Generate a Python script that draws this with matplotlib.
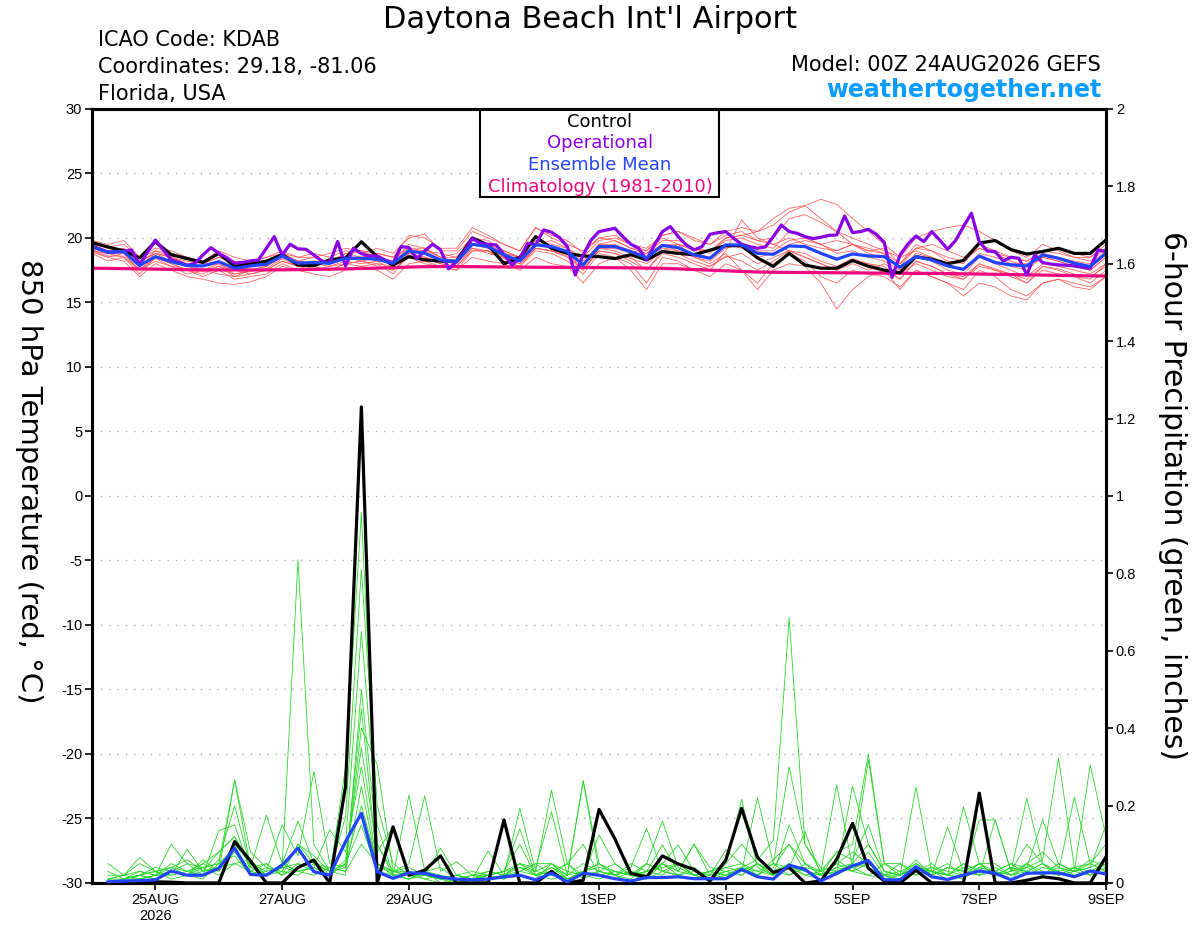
import numpy as np
import matplotlib.pyplot as plt
import matplotlib.dates as mdates
from matplotlib.patches import Rectangle
from datetime import datetime, timedelta

plt.rcParams['font.family'] = ['Liberation Sans', 'DejaVu Sans']

# time axes: model init 00Z 24AUG2026, 6-hourly ensemble, 3-hourly operational
init = datetime(2026, 8, 24, 0)
t6 = [init + timedelta(hours=h) for h in range(0, 385, 6)]
t3 = [init + timedelta(hours=h) for h in range(0, 385, 3)]
tp = t6[1:]  # 6-hour precip ends at 06Z

# ---- 850 hPa temperature (C) ----
control_t = [19.64, 19.3, 19.0, 18.45, 19.7, 18.7, 18.4, 18.1, 18.8, 17.8, 18.0, 18.2, 18.7,
             17.9, 17.85, 18.3, 18.45, 19.7, 18.55, 17.9, 18.55, 18.3, 18.2, 18.2, 20.0, 19.45,
             18.0, 18.5, 20.1, 19.2, 18.8, 18.6, 18.55, 18.4, 18.7, 18.3, 18.95, 18.8, 18.7,
             19.05, 19.4, 19.4, 18.45, 17.8, 18.8, 17.9, 17.65, 17.65, 18.25, 17.8, 17.5, 17.3,
             18.55, 18.35, 18.0, 18.25, 19.6, 19.8, 19.1, 18.75, 18.95, 19.2, 18.8, 18.8, 19.85]

mean_t = [19.33, 18.89, 18.94, 17.86, 18.55, 18.16, 17.86, 17.83, 18.16, 17.65, 17.83, 17.96, 18.6,
          18.04, 18.09, 18.04, 18.42, 18.42, 18.35, 18.04, 18.99, 18.81, 18.29, 18.16, 19.51, 19.33,
          18.68, 18.22, 19.46, 19.33, 18.94, 17.91, 19.33, 19.33, 18.94, 18.47, 19.41, 19.25, 18.68,
          18.42, 19.46, 19.46, 18.81, 18.73, 19.38, 19.33, 18.81, 18.35, 18.76, 18.6, 18.55, 17.73,
          18.55, 18.29, 17.83, 17.57, 18.6, 18.09, 17.91, 17.83, 18.68, 18.42, 18.04, 17.78, 18.81]

clim_t = [17.65, 17.64, 17.62, 17.6, 17.58, 17.56, 17.54, 17.53, 17.52, 17.52, 17.52, 17.52, 17.53,
          17.54, 17.56, 17.58, 17.6, 17.63, 17.66, 17.7, 17.74, 17.77, 17.78, 17.78, 17.77, 17.76,
          17.75, 17.74, 17.73, 17.72, 17.72, 17.71, 17.7, 17.69, 17.68, 17.66, 17.64, 17.6, 17.55,
          17.5, 17.45, 17.4, 17.36, 17.34, 17.33, 17.32, 17.31, 17.3, 17.29, 17.28, 17.27, 17.26,
          17.25, 17.25, 17.24, 17.22, 17.2, 17.18, 17.16, 17.14, 17.12, 17.1, 17.08, 17.06, 17.05]

oper_t = [19.33, 19.12, 18.89, 18.9, 18.97, 19.07, 17.91, 18.9, 19.84, 19.07,
          18.29, 18.1, 17.86, 18.04, 18.68, 19.25, 18.81, 18.47, 18.04, 18.1,
          18.22, 18.29, 19.2, 20.1, 18.68, 19.51, 19.15, 19.12, 18.68, 18.22,
          18.04, 19.72, 17.83, 19.2, 18.78, 18.6, 18.6, 18.29, 18.04, 19.33,
          19.25, 18.4, 19.0, 19.51, 19.07, 17.6, 18.16, 18.97, 19.97, 19.59,
          19.51, 19.46, 18.73, 17.91, 18.42, 19.59, 19.46, 20.62, 20.44, 20.03,
          19.33, 17.13, 18.68, 19.84, 20.49, 20.62, 20.75, 20.1, 19.51, 19.2,
          18.29, 19.46, 20.49, 20.88, 20.1, 19.46, 19.07, 19.33, 20.28, 20.41,
          20.49, 19.97, 19.51, 19.33, 19.2, 19.3, 20.1, 21.0, 20.49, 20.36,
          20.1, 19.95, 20.05, 20.2, 20.23, 21.7, 20.41, 20.49, 20.67, 20.28,
          19.66, 16.95, 18.68, 19.53, 20.15, 19.71, 20.49, 19.84, 19.12, 19.79,
          20.88, 21.91, 19.71, 18.99, 18.94, 18.22, 18.5, 18.42, 17.13, 18.68,
          18.09, 17.98, 17.91, 17.88, 17.83, 17.73, 17.65, 19.07, 18.94]

members_t = [
    [19.5, 19.0, 19.2, 18.0, 19.0, 18.5, 18.0, 17.5, 18.0, 17.2, 17.5, 17.8, 18.5,
     18.2, 18.5, 18.0, 18.8, 19.0, 18.5, 18.2, 19.5, 19.2, 18.5, 18.8, 20.0, 19.8,
     19.0, 18.5, 19.8, 19.5, 19.2, 18.5, 19.8, 20.0, 19.5, 19.0, 20.2, 20.5, 20.0,
     19.5, 20.5, 20.8, 20.5, 21.0, 22.0, 22.5, 23.0, 22.6, 21.5, 20.5, 19.5, 18.5,
     19.0, 18.5, 18.0, 17.5, 18.5, 18.0, 17.5, 17.0, 18.0, 17.8, 17.5, 17.2, 18.0],
    [19.0, 18.5, 18.2, 17.0, 18.0, 17.5, 17.0, 16.8, 16.5, 16.4, 16.6, 17.0, 17.8,
     17.5, 17.2, 17.0, 17.5, 17.8, 17.5, 16.8, 18.0, 18.2, 17.8, 17.5, 18.5, 18.2,
     18.0, 17.5, 18.5, 18.0, 17.8, 16.5, 18.0, 18.5, 18.0, 16.5, 18.5, 18.2, 17.5,
     17.0, 18.0, 17.5, 16.0, 17.5, 18.0, 17.8, 16.5, 14.5, 16.0, 17.0, 17.5, 16.0,
     17.5, 17.0, 16.5, 16.0, 17.5, 17.0, 16.0, 15.5, 16.5, 16.8, 16.5, 16.2, 17.0],
    [19.8, 19.5, 19.8, 18.5, 19.2, 19.0, 18.5, 18.2, 19.0, 18.5, 18.2, 18.5, 19.0,
     18.5, 18.8, 18.5, 19.0, 18.8, 19.2, 18.8, 20.0, 20.3, 19.0, 19.0, 20.5, 20.0,
     19.5, 19.0, 20.8, 20.0, 19.5, 19.0, 20.0, 19.8, 19.2, 19.0, 20.0, 19.5, 19.0,
     19.0, 19.8, 20.0, 19.5, 19.2, 20.5, 20.0, 19.5, 19.8, 19.5, 19.0, 19.2, 18.0,
     19.5, 19.0, 18.2, 18.0, 19.5, 19.0, 18.5, 18.2, 19.0, 19.2, 18.8, 18.5, 19.5],
    [18.8, 18.2, 18.5, 17.5, 18.2, 17.8, 17.2, 17.5, 17.8, 17.5, 17.2, 17.5, 18.2,
     17.8, 17.5, 17.8, 18.0, 18.2, 17.8, 17.5, 18.5, 18.0, 17.8, 17.5, 19.0, 19.0,
     18.2, 17.8, 19.2, 19.0, 18.5, 17.5, 19.0, 18.8, 18.2, 17.5, 18.8, 18.5, 18.0,
     17.5, 19.0, 21.4, 20.0, 19.5, 19.0, 18.5, 18.0, 17.5, 18.0, 17.5, 18.0, 17.2,
     18.0, 17.5, 17.0, 16.8, 18.0, 17.5, 17.2, 16.5, 17.8, 17.5, 17.0, 16.8, 18.0],
    [19.2, 19.0, 18.8, 17.8, 18.8, 18.5, 18.2, 18.0, 18.5, 18.0, 18.2, 18.5, 18.8,
     18.2, 18.0, 18.2, 18.5, 18.5, 18.8, 18.5, 19.2, 19.0, 18.8, 18.5, 19.8, 19.5,
     18.8, 18.5, 19.5, 19.8, 19.2, 18.2, 19.5, 19.8, 19.2, 18.8, 19.8, 19.8, 19.2,
     18.8, 20.0, 20.2, 19.8, 20.0, 21.5, 21.8, 21.2, 20.5, 20.0, 19.5, 19.0, 18.5,
     20.0, 20.5, 20.8, 21.0, 20.5, 19.8, 19.0, 18.5, 19.5, 19.0, 18.5, 18.2, 19.2],
    [19.0, 18.8, 18.5, 17.2, 18.5, 18.0, 17.5, 17.2, 17.8, 17.0, 17.2, 17.5, 18.2,
     17.8, 17.8, 17.5, 18.0, 18.2, 18.0, 17.2, 18.8, 18.5, 18.0, 17.8, 19.2, 19.0,
     18.2, 17.8, 19.0, 18.8, 18.2, 17.2, 18.8, 18.5, 17.5, 16.0, 18.0, 18.0, 17.5,
     17.8, 18.5, 18.8, 18.0, 18.5, 19.0, 18.5, 18.0, 17.5, 18.2, 18.0, 17.8, 16.8,
     18.2, 17.8, 17.2, 16.8, 17.8, 17.5, 17.0, 16.5, 17.5, 17.2, 17.0, 16.5, 17.5],
    [19.5, 19.2, 19.0, 18.2, 18.8, 18.2, 17.8, 17.5, 17.2, 17.0, 17.5, 17.8, 18.5,
     18.0, 18.2, 18.2, 18.8, 18.5, 18.2, 18.0, 19.0, 19.0, 18.5, 18.2, 19.5, 19.2,
     18.8, 18.5, 19.5, 19.2, 19.0, 18.0, 19.5, 19.2, 19.0, 18.5, 19.5, 19.0, 18.8,
     18.5, 19.5, 19.2, 18.5, 18.8, 19.5, 19.8, 19.5, 19.0, 19.5, 19.0, 18.8, 17.5,
     18.8, 18.5, 17.8, 17.5, 18.8, 18.5, 18.0, 18.0, 18.8, 18.5, 18.2, 18.0, 19.0],
    [19.2, 18.8, 19.0, 17.8, 18.5, 18.0, 17.5, 17.0, 17.5, 16.8, 17.0, 17.2, 18.0,
     17.5, 17.8, 17.5, 18.0, 17.8, 18.0, 17.8, 18.8, 18.5, 18.2, 18.0, 19.2, 18.8,
     18.5, 18.0, 19.2, 19.0, 18.8, 17.5, 19.2, 19.0, 18.5, 17.5, 19.0, 19.5, 18.5,
     18.0, 18.8, 17.5, 16.5, 18.0, 18.8, 18.2, 17.0, 16.5, 17.5, 17.2, 17.0, 16.2,
     17.5, 17.0, 16.5, 15.5, 16.5, 16.2, 15.5, 15.2, 16.5, 16.8, 16.2, 16.0, 17.0],
    [19.6, 19.3, 19.5, 18.5, 19.0, 18.8, 18.5, 18.0, 18.5, 18.2, 18.0, 18.2, 18.8,
     18.5, 18.5, 18.8, 19.2, 19.0, 18.8, 18.5, 20.2, 20.0, 19.2, 19.2, 20.8, 20.2,
     19.5, 19.0, 20.8, 20.2, 19.8, 18.8, 20.0, 20.2, 19.5, 19.2, 20.2, 20.5, 19.8,
     19.5, 20.2, 20.5, 19.8, 19.5, 20.0, 19.5, 19.2, 19.0, 19.5, 18.8, 18.5, 17.8,
     19.2, 19.0, 18.5, 18.2, 19.2, 18.8, 18.5, 18.2, 19.0, 18.8, 18.5, 18.5, 19.2],
    [18.9, 18.5, 18.8, 17.5, 18.5, 18.2, 17.8, 17.8, 18.2, 17.5, 17.8, 18.0, 18.5,
     18.0, 18.2, 18.0, 18.5, 18.5, 18.5, 18.0, 19.0, 18.8, 18.2, 18.0, 19.5, 19.2,
     18.5, 18.2, 19.5, 19.2, 18.8, 17.8, 19.2, 19.2, 18.8, 18.2, 19.2, 19.0, 18.5,
     18.2, 19.2, 19.5, 19.0, 19.0, 19.8, 20.0, 19.5, 18.8, 19.0, 18.5, 18.2, 17.5,
     18.5, 18.2, 17.5, 17.2, 18.5, 18.2, 17.8, 17.5, 18.5, 18.2, 17.8, 17.5, 18.5],
    [19.4, 19.0, 19.2, 18.2, 18.8, 18.5, 18.0, 17.8, 18.0, 17.5, 17.8, 18.2, 18.8,
     18.2, 18.0, 18.2, 18.5, 18.2, 18.5, 18.2, 19.2, 19.2, 18.5, 18.5, 19.8, 19.5,
     19.0, 18.5, 19.5, 19.2, 19.0, 18.0, 19.5, 19.5, 19.0, 18.8, 19.5, 19.5, 19.2,
     19.0, 20.0, 20.2, 20.5, 21.5, 22.3, 22.5, 21.5, 20.5, 19.5, 19.2, 18.8, 18.0,
     19.2, 19.5, 19.0, 18.5, 19.2, 18.8, 18.2, 17.8, 18.5, 18.2, 17.8, 17.5, 18.5],
    [19.1, 18.6, 18.6, 17.6, 18.4, 17.8, 17.6, 17.4, 17.6, 17.2, 17.4, 17.6, 18.4,
     17.8, 18.0, 17.8, 18.2, 18.0, 18.2, 17.5, 18.6, 18.4, 18.0, 17.8, 19.0, 19.0,
     18.4, 18.0, 19.2, 19.0, 18.6, 17.6, 19.0, 18.8, 18.4, 18.0, 19.0, 18.8, 18.2,
     17.8, 18.6, 18.2, 17.5, 18.2, 19.0, 18.8, 18.2, 17.8, 18.4, 18.0, 17.5, 16.8,
     18.2, 17.8, 17.2, 17.0, 18.0, 17.6, 17.2, 16.8, 17.8, 17.6, 17.2, 17.0, 17.8],
]

# ---- 6-hour precipitation (inches) ----
control_p = [0, 0, 0, 0.003, 0.002, 0, 0, 0,
             0.107, 0.057, 0, 0, 0.04, 0.059, 0, 0.25,
             1.23, 0, 0.145, 0.02, 0.033, 0.07, 0, 0,
             0, 0.163, 0, 0, 0.03, 0, 0.007, 0.19,
             0.114, 0.025, 0.015, 0.07, 0.049, 0.035, 0.005, 0.059,
             0.193, 0.066, 0.027, 0.04, 0, 0.005, 0.061, 0.154,
             0.038, 0.005, 0, 0.033, 0, 0, 0, 0.232,
             0, 0, 0.007, 0.016, 0.011, 0, 0, 0.068]

mean_p = [0.003, 0.005, 0.006, 0.008, 0.031, 0.02, 0.02, 0.038,
          0.09, 0.022, 0.02, 0.046, 0.09, 0.029, 0.02, 0.107,
          0.18, 0.029, 0.012, 0.026, 0.025, 0.015, 0.01, 0.008,
          0.01, 0.016, 0.02, 0.008, 0.025, 0.003, 0.025, 0.02,
          0.011, 0.005, 0.014, 0.014, 0.016, 0.011, 0.011, 0.011,
          0.035, 0.016, 0.01, 0.046, 0.035, 0.005, 0.025, 0.044,
          0.058, 0.008, 0.008, 0.042, 0.016, 0.009, 0.02, 0.031,
          0.025, 0.008, 0.025, 0.026, 0.026, 0.016, 0.031, 0.023]

members_p = [
    [.01, .02, .05, .03, .04, .06, .03, .08, .12, .05, .02, .04, .835, .1, .03, .05,
     .2, .05, .02, .01, .03, 0, 0, .01, .02, .03, .1, .02, .04, .01, .03, .05,
     .02, 0, .03, .05, .02, .04, .01, .02, .03, .05, .02, .04, .02, .01, .06, .03,
     .05, .02, 0, .03, .05, .02, .01, .04, .03, .02, .05, .08, .04, .02, .03, .05],
    [0, .01, .02, .01, .03, .02, .04, .05, .266, .08, .04, .02, .05, .04, .02, .3,
     .956, .1, .02, .03, .01, 0, .01, 0, .01, .02, .05, .03, .24, .05, .02, .01,
     .03, .02, .01, .05, .03, .02, .01, .03, .04, .02, .06, .1, .05, .02, .03, .04,
     .02, .01, .02, .05, .03, .01, .02, .05, .02, .03, .1, .05, .02, .03, .06, .04],
    [0, 0, .01, .02, .1, .05, .02, .06, .2, .04, .175, .05, .16, .05, .03, .17,
     .81, .2, .05, .02, .03, .01, 0, 0, .02, .01, .03, .05, .05, .02, .264, .05,
     .02, .01, .05, .03, .02, .01, .03, .02, .03, .02, .05, .04, .133, .02, .05, .03,
     .08, .02, .01, .03, .04, .02, .197, .05, .03, .01, .05, .03, .02, .04, .02, .06],
    [.05, .02, .066, .03, .04, .02, .01, .05, .09, .03, .05, .02, .04, .06, .02, .05,
     .15, .03, .02, .227, .03, .01, .02, .01, .03, .02, .02, .01, .05, .03, .02, .124,
     .05, .02, .03, .04, .05, .02, .01, .02, .04, .06, .11, .685, .1, .03, .02, .05,
     .04, .02, .05, .02, .03, .02, .04, .02, .03, .05, .02, .04, .03, .222, .05, .03],
    [0, .01, .02, .03, .02, .087, .03, .04, .1, .05, .03, .15, .07, .288, .05, .04,
     .4, .305, .03, .02, .01, .02, 0, .01, .083, .02, .04, .02, .03, .05, .01, .03,
     .02, .04, .141, .03, .02, .01, .02, .03, .02, .05, .03, .02, .05, .03, .08, .1,
     .333, .05, .02, .04, .03, .02, .05, .03, .02, .04, .03, .02, .05, .03, .02, .04],
    [.02, .02, .03, .02, .05, .03, .02, .135, .15, .03, .02, .05, .03, .04, .137, .08,
     .3, .05, .03, .04, .02, .09, .02, .01, .02, .03, .05, .04, .184, .02, .03, .02,
     .03, .02, .05, .16, .04, .02, .03, .05, .216, .04, .02, .05, .03, .02, .04, .05,
     .1, .03, .02, .248, .03, .05, .02, .04, .03, .05, .04, .06, .323, .04, .03, .05],
    [.03, .01, .02, .04, .03, .02, .05, .03, .08, .02, .04, .03, .02, .05, .04, .03,
     .25, .04, .03, .05, .225, .03, .055, .02, .01, .02, .193, .03, .02, .05, .1, .02,
     .01, .03, .02, .05, .098, .03, .02, .04, .03, .22, .05, .02, .04, .03, .253, .04,
     .05, .02, .03, .05, .02, .145, .03, .02, .04, .02, .03, .05, .02, .03, .305, .12],
    [0, .01, .01, .02, .03, .05, .04, .02, .05, .06, .02, .03, .1, .05, .03, .02,
     .5, .1, .03, .02, .02, .01, .02, .01, .02, .03, .14, .02, .01, .02, .05, .03,
     .02, .05, .03, .098, .03, .1, .02, .085, .05, .03, .02, .15, .05, .02, .03, .25,
     .1, .03, .02, .04, .03, .02, .02, .163, .163, .03, .219, .05, .03, .04, .02, .03],
    [.01, 0, .02, .01, .03, .02, .06, .03, .266, .04, .02, .05, .03, .04, .02, .1,
     .65, .15, .02, .01, .03, .02, .01, 0, .01, .02, .03, .05, .02, .01, .03, .05,
     .03, .02, .01, .03, .05, .02, .03, .02, .04, .03, .05, .3, .1, .04, .03, .05,
     .318, .05, .05, .03, .02, .04, .03, .05, .05, .02, .04, .163, .05, .03, .04, .06],
    [.01, .02, .01, .02, .02, .03, .04, .05, .07, .02, .03, .04, .05, .03, .02, .06,
     .35, .08, .145, .02, .03, .04, .01, .02, .03, .02, .05, .02, .03, .01, .02, .03,
     .02, .03, .02, .05, .03, .1, .04, .03, .02, .05, .03, .05, .02, .03, .05, .08,
     .05, .02, .02, .04, .03, .02, .05, .03, .02, .03, .05, .02, .04, .03, .05, .1],
    [0, .01, .02, .03, .01, .02, .03, .04, .05, .03, .02, .04, .03, .02, .04, .03,
     .1, .05, .02, .01, .02, .01, .02, .03, .02, .01, .03, .02, .04, .02, .264, .03,
     .05, .02, .03, .02, .05, .02, .03, .04, .05, .02, .04, .1, .03, .02, .04, .03,
     .02, .05, .03, .02, .04, .03, .02, .05, .02, .04, .03, .05, .02, .04, .05, .03],
    [.01, .01, .03, .02, .04, .03, .05, .08, .12, .04, .05, .02, .1, .07, .03, .04,
     .45, .05, .03, .03, .02, .01, .01, .02, .02, .03, .04, .03, .05, .01, .03, .04,
     .03, .02, .05, .03, .02, .03, .01, .05, .1, .05, .02, .04, .03, .02, .08, .06,
     .15, .03, .02, .06, .02, .04, .03, .02, .163, .03, .04, .02, .05, .03, .04, .15],
]

# axis labels and ticks
date_ticks = [datetime(2026, 8, 25), datetime(2026, 8, 27), datetime(2026, 8, 29),
              datetime(2026, 9, 1), datetime(2026, 9, 3), datetime(2026, 9, 5),
              datetime(2026, 9, 7), datetime(2026, 9, 9)]
date_labels = ['25AUG\n2026', '27AUG', '29AUG', '1SEP', '3SEP', '5SEP', '7SEP', '9SEP']
temp_ticks = list(range(-30, 31, 5))
precip_ticks = [0, 0.2, 0.4, 0.6, 0.8, 1, 1.2, 1.4, 1.6, 1.8, 2]
precip_labels = ['0', '0.2', '0.4', '0.6', '0.8', '1', '1.2', '1.4', '1.6', '1.8', '2']

c_red = '#ff4a4a'
c_green = '#2bd62b'
c_purple = '#8a00e6'
c_blue = '#2244ff'
c_pink = '#f0087f'
wide = ['DejaVu Sans']

fig = plt.figure(figsize=(12, 9.27), dpi=100)
ax = fig.add_axes([0.0767, 0.0475, 0.845, 0.835])
ax2 = ax.twinx()

for m in members_t:
    ax.plot(t6, m, color=c_red, lw=0.6, alpha=0.85, zorder=2)
ax.plot(t6, clim_t, color=c_pink, lw=2.3, zorder=3)
ax.plot(t6, control_t, color='black', lw=2.3, zorder=4)
ax.plot(t3, oper_t, color=c_purple, lw=2.3, zorder=5)
ax.plot(t6, mean_t, color=c_blue, lw=2.3, zorder=6)

for m in members_p:
    ax2.plot(tp, m, color=c_green, lw=0.6, zorder=2)
ax2.plot(tp, control_p, color='black', lw=2.3, zorder=4)
ax2.plot(tp, mean_p, color=c_blue, lw=2.3, zorder=5)

ax.set_xlim(datetime(2026, 8, 24), datetime(2026, 9, 9))
ax.set_ylim(-30, 30)
ax2.set_ylim(0, 2)

ax.set_yticks(temp_ticks)
ax.set_yticklabels([str(v) for v in temp_ticks])
ax2.set_yticks(precip_ticks)
ax2.set_yticklabels(precip_labels)
ax.set_xticks(date_ticks)
ax.set_xticklabels(date_labels)

ax.yaxis.grid(True, linestyle=(0, (1, 5)), color='#aaaaaa', lw=1.0)
ax.set_axisbelow(True)

for a in (ax, ax2):
    for s in a.spines.values():
        s.set_linewidth(2.2)
    a.tick_params(axis='both', direction='out', length=5, width=1.2, labelsize=10.5, pad=2)

# both axis titles read top to bottom
ax.set_ylabel('850 hPa Temperature (red, °C)', fontsize=21, rotation=270,
              va='center', family=wide)
ax.yaxis.set_label_coords(-0.062, 0.519)
ax2.set_ylabel('6-hour Precipitation (green, inches)', fontsize=21.5, rotation=270,
               va='center', family=wide)
ax2.yaxis.set_label_coords(1.066, 0.5)

# legend box
ax.add_patch(Rectangle((0.3826, 0.8863), 0.2357, 0.1137, transform=ax.transAxes,
                       fill=True, facecolor='white', edgecolor='black', lw=1.5, zorder=10))
leg = [('Control', 'black', 0.9767), ('Operational', c_purple, 0.9496),
       ('Ensemble Mean', c_blue, 0.9212), ('Climatology (1981-2010)', c_pink, 0.8928)]
for txt, col, yy in leg:
    ax.text(0.501, yy, txt, color=col, fontsize=13, ha='center', va='baseline',
            transform=ax.transAxes, zorder=11, family=wide)

# header text
fig.text(0.4917, 0.9698, "Daytona Beach Int'l Airport", fontsize=22, ha='center',
         va='baseline', family=wide)
fig.text(0.0817, 0.9504, 'ICAO Code: KDAB', fontsize=15, va='baseline', family=wide)
fig.text(0.0817, 0.9213, 'Coordinates: 29.18, -81.06', fontsize=15, va='baseline', family=wide)
fig.text(0.0817, 0.8921, 'Florida, USA', fontsize=15, va='baseline', family=wide)
fig.text(0.9175, 0.9234, 'Model: 00Z 24AUG2026 GEFS', fontsize=15, ha='right',
         va='baseline', family=wide)
fig.text(0.9175, 0.8957, 'weathertogether.net', fontsize=17, fontweight='bold',
         color='#0a9cff', ha='right', va='baseline', family=wide)

fig.savefig('out.png', dpi=100)
